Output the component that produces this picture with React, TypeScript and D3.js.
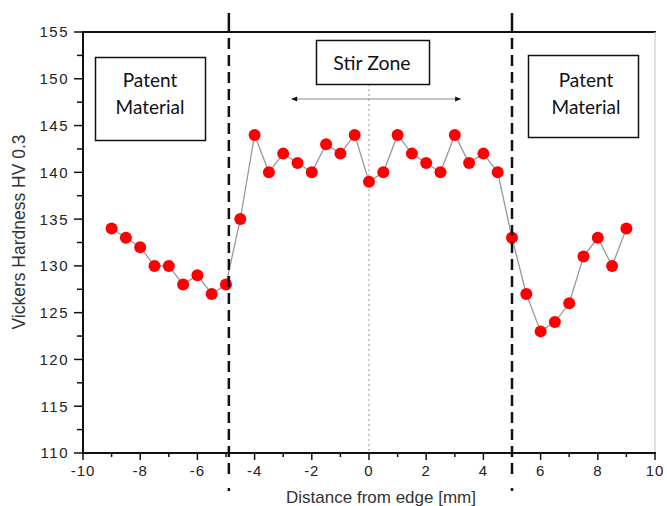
import React from "react";
import * as d3 from "d3";

const distances = [-9, -8.5, -8, -7.5, -7, -6.5, -6, -5.5, -5, -4.5, -4, -3.5, -3, -2.5, -2, -1.5, -1, -0.5, 0, 0.5, 1, 1.5, 2, 2.5, 3, 3.5, 4, 4.5, 5, 5.5, 6, 6.5, 7, 7.5, 8, 8.5, 9];
const hardness = [134, 133, 132, 130, 130, 128, 129, 127, 128, 135, 144, 140, 142, 141, 140, 143, 142, 144, 139, 140, 144, 142, 141, 140, 144, 141, 142, 140, 133, 127, 123, 124, 126, 131, 133, 130, 134];
const xTicks = [-10, -8, -6, -4, -2, 0, 2, 4, 6, 8, 10];
const yTicks = [110, 115, 120, 125, 130, 135, 140, 145, 150, 155];
const boundaries = [-4.9, 5];
const xLabel = "Distance from edge [mm]";
const yLabel = "Vickers Hardness HV 0.3";

const W = 667, H = 506;
const L = 83, R = 655, T = 32, B = 453;

export default function App() {
  const x = d3.scaleLinear().domain([-10, 10]).range([L, R]);
  const y = d3.scaleLinear().domain([110, 155]).range([B, T]);
  const pts = distances.map((d, i) => [d, hardness[i]] as [number, number]);
  const line = d3.line<[number, number]>().x(d => x(d[0])).y(d => y(d[1]));
  const minorX = d3.range(-9, 10, 2);
  const minorY = d3.range(112.5, 155, 5);
  const tickFont = "'Liberation Sans', Arial, sans-serif";
  const boxFont = "Lato, 'Open Sans', sans-serif";

  return (
    <svg width={W} height={H} style={{ position: "absolute", left: 0, top: 0, background: "#fff" }}>
      <defs>
        <marker id="ah" viewBox="0 0 10 10" refX="9" refY="5" markerWidth="9" markerHeight="6" orient="auto-start-reverse" markerUnits="userSpaceOnUse">
          <path d="M0,1 L10,5 L0,9 Z" fill="#111" />
        </marker>
      </defs>
      {/* frame */}
      <line x1={L} x2={R + 1} y1={T} y2={T} stroke="#111" strokeWidth={2} />
      <line x1={R} x2={R} y1={T} y2={B} stroke="#ccc" strokeWidth={1.2} />
      {/* center dotted line */}
      <line x1={x(0)} x2={x(0)} y1={84} y2={B} stroke="#999" strokeWidth={1} strokeDasharray="2,3" />
      {/* arrow */}
      <line x1={x(-2.7)} x2={x(3.2)} y1={99} y2={99} stroke="#888" strokeWidth={1} markerStart="url(#ah)" markerEnd="url(#ah)" />
      {/* data line */}
      <path d={line(pts) || ""} fill="none" stroke="#999" strokeWidth={1.3} />
      {pts.map((p, i) => (
        <circle key={i} cx={x(p[0])} cy={y(p[1])} r={6} fill="#f00" />
      ))}
      {/* dashed boundaries */}
      {boundaries.map((b, i) => (
        <g key={i}>
          <line x1={x(b)} x2={x(b)} y1={13} y2={33} stroke="#111" strokeWidth={2.5} />
          <line x1={x(b)} x2={x(b)} y1={38} y2={480} stroke="#111" strokeWidth={2.5} strokeDasharray="11,6" />
          <line x1={x(b)} x2={x(b)} y1={488} y2={491} stroke="#111" strokeWidth={2.5} />
        </g>
      ))}
      {/* axes */}
      <line x1={L} x2={L} y1={T - 1} y2={B + 1} stroke="#111" strokeWidth={2} />
      <line x1={L - 1} x2={R + 1} y1={B} y2={B} stroke="#111" strokeWidth={2} />
      {yTicks.map(t => (
        <g key={t}>
          <line x1={L - 9} x2={L} y1={y(t)} y2={y(t)} stroke="#111" strokeWidth={1.5} />
          <text x={L - 14} y={y(t)} dy="0.36em" textAnchor="end" fontFamily={tickFont} fontSize={15} letterSpacing={1.5} fill="#222">{t}</text>
        </g>
      ))}
      {minorY.map(t => (
        <line key={t} x1={L - 6} x2={L} y1={y(t)} y2={y(t)} stroke="#111" strokeWidth={1.5} />
      ))}
      {xTicks.map(t => (
        <g key={t}>
          <line x1={x(t)} x2={x(t)} y1={B} y2={B + 7} stroke="#111" strokeWidth={1.5} />
          <text x={x(t)} y={476} textAnchor="middle" fontFamily={tickFont} fontSize={15} letterSpacing={1} fill="#222">{t}</text>
        </g>
      ))}
      {minorX.map(t => (
        <line key={t} x1={x(t)} x2={x(t)} y1={B} y2={B + 4} stroke="#111" strokeWidth={1.5} />
      ))}
      <text x={381} y={503} textAnchor="middle" fontFamily={tickFont} fontSize={17} fill="#333">{xLabel}</text>
      <text transform={`translate(25, 232) rotate(-90)`} textAnchor="middle" fontFamily={tickFont} fontSize={17.5} fill="#333">{yLabel}</text>
      {/* boxes */}
      <rect x={95.5} y={57.5} width={110} height={83} fill="#fff" stroke="#111" strokeWidth={1.5} />
      <text x={150} y={87} textAnchor="middle" fontFamily={boxFont} fontSize={19} fill="#111">Patent</text>
      <text x={150} y={114} textAnchor="middle" fontFamily={boxFont} fontSize={19} fill="#111">Material</text>
      <rect x={316.5} y={40.5} width={113} height={44} fill="#fff" stroke="#111" strokeWidth={1.5} />
      <text x={372} y={70} textAnchor="middle" fontFamily={boxFont} fontSize={19.5} fill="#111">Stir Zone</text>
      <rect x={528.5} y={55.5} width={110} height={82} fill="#fff" stroke="#111" strokeWidth={1.5} />
      <text x={586} y={87} textAnchor="middle" fontFamily={boxFont} fontSize={19} fill="#111">Patent</text>
      <text x={586} y={114} textAnchor="middle" fontFamily={boxFont} fontSize={19} fill="#111">Material</text>
    </svg>
  );
}
